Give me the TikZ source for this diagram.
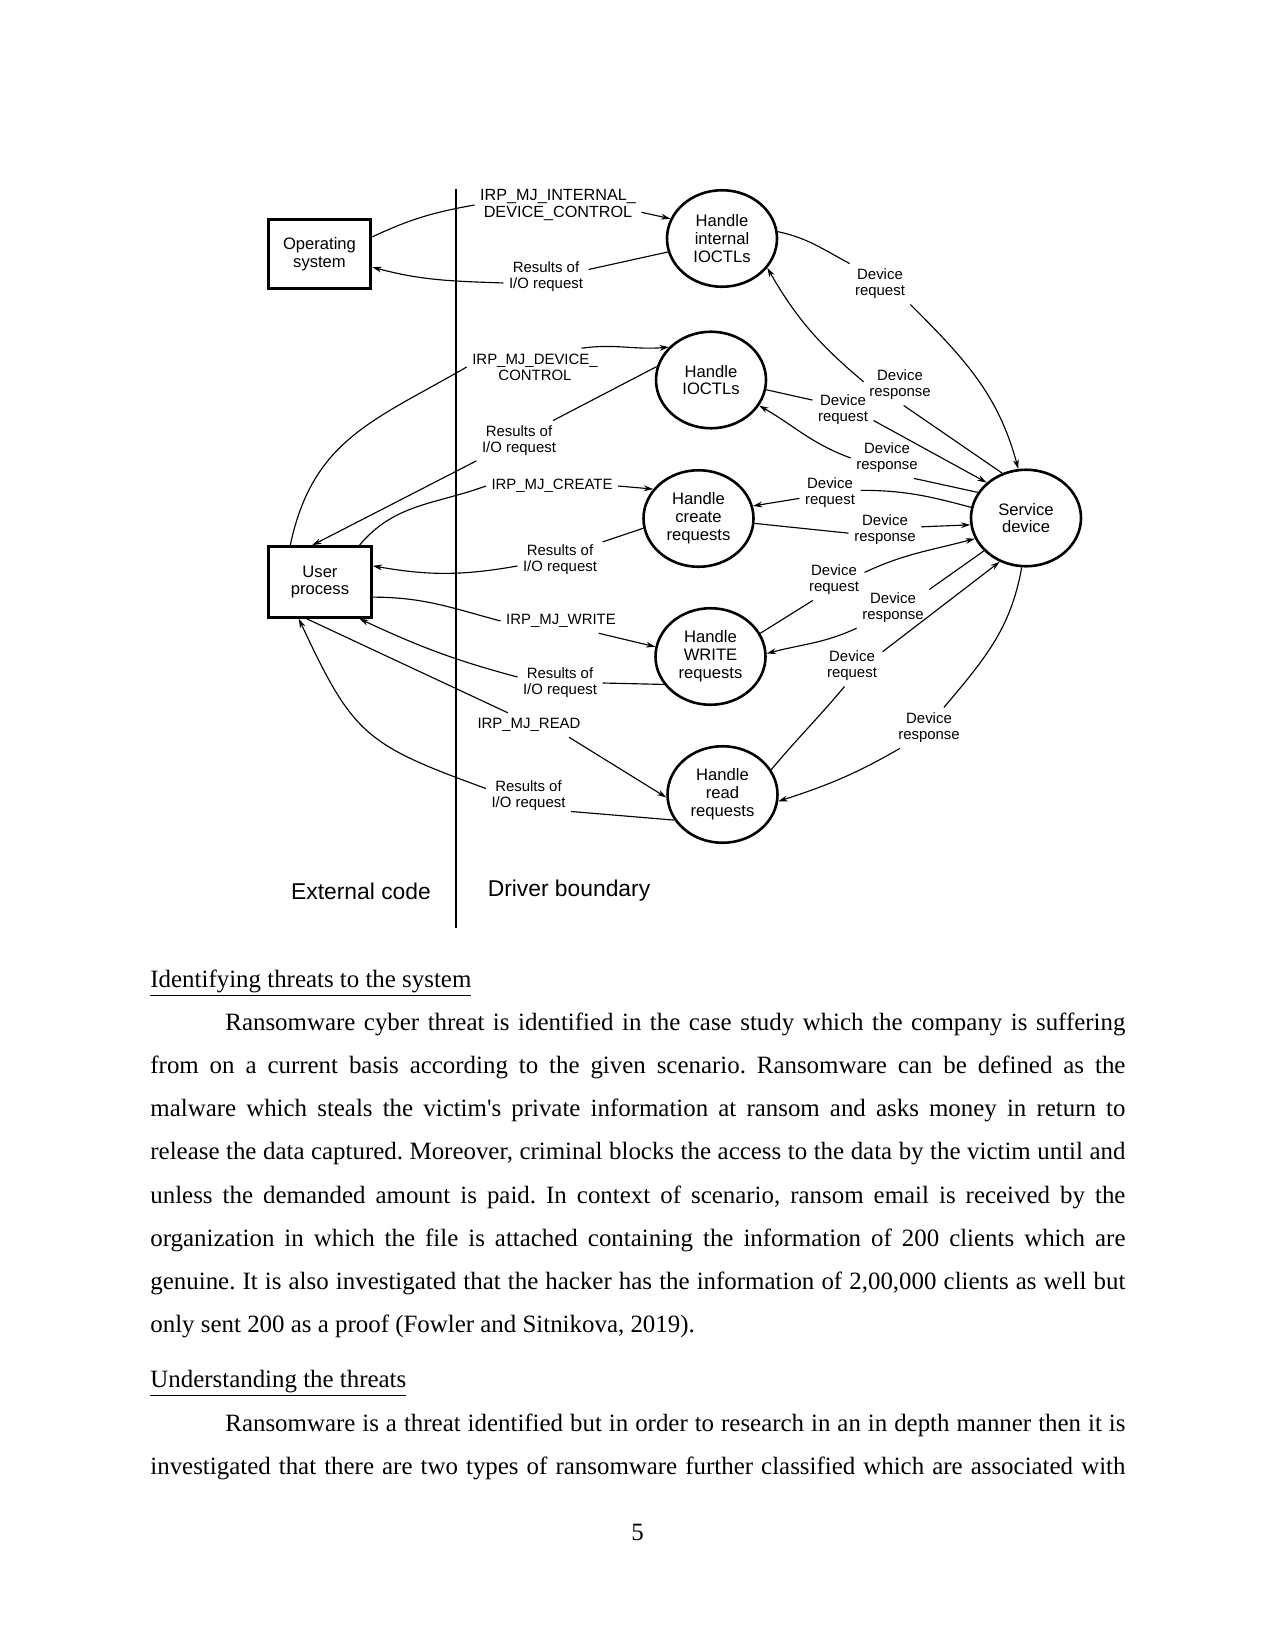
\documentclass[tikz,border=0pt]{standalone}
\usepackage{fontspec}
\setmainfont{Liberation Serif}
\newfontfamily\figfont{Liberation Sans}
\usetikzlibrary{shapes.geometric,arrows.meta}
\frenchspacing
\begin{document}
\begin{tikzpicture}[x=0.4818pt,y=-0.4818pt,
  proc/.style={ellipse,draw,line width=1.25pt,minimum width=53pt,minimum height=46.5pt,inner sep=0pt,align=center,font=\figfont\fontsize{8}{8.6}\selectfont},
  extbox/.style={rectangle,draw,line width=1.4pt,minimum width=49.5pt,minimum height=33pt,inner sep=0pt,align=center,font=\figfont\fontsize{8}{8.6}\selectfont},
  lab/.style={inner sep=2.5pt,align=center,font=\figfont\fontsize{7.2}{7.6}\selectfont},
  conn/.style={line width=0.55pt},
  arr/.style={conn,-{Stealth[length=4.5pt,width=2.8pt]}},
  body/.style={anchor=base west,inner sep=0pt,font=\fontsize{12}{14}\selectfont},
  bound/.style={font=\figfont\fontsize{11}{13}\selectfont},
]
\useasboundingbox (0,0) rectangle (1275,1650);

% boundary line
\coordinate (btop) at (456,189);
\coordinate (bbot) at (456,928);
\draw[line width=1.3pt] (btop) -- (bbot);

% main nodes
\node[extbox] (os) at (319.5,254) {Operating\\system};
\node[extbox,minimum height=34pt] (up) at (320,582) {User\\process};
\node[proc] (hi) at (722,238.5) {Handle\\internal\\IOCTLs};
\node[proc] (hc) at (711,380) {Handle\\IOCTLs};
\node[proc] (hr) at (698.5,518.5) {Handle\\create\\requests};
\node[proc] (hw) at (710.5,656.5) {Handle\\WRITE\\requests};
\node[proc] (hd) at (722.5,794.5) {Handle\\read\\requests};
\node[proc] (sd) at (1026,518) {Service\\device};

% labels
\node[lab,font=\figfont\fontsize{7.8}{8.4}\selectfont] (l1) at (558,205) {IRP\_MJ\_INTERNAL\_\\DEVICE\_CONTROL};
\node[lab] (l2) at (546,277) {Results of\\I/O request};
\node[lab] (l3) at (535,367) {IRP\_MJ\_DEVICE\_\\CONTROL};
\node[lab] (l4) at (519,441) {Results of\\I/O request};
\node[lab] (l5) at (552,486) {IRP\_MJ\_CREATE};
\node[lab] (l6) at (560,560) {Results of\\I/O request};
\node[lab] (l7) at (561,621) {IRP\_MJ\_WRITE};
\node[lab] (l8) at (560,683) {Results of\\I/O request};
\node[lab] (l9) at (529,725) {IRP\_MJ\_READ};
\node[lab] (l10) at (528.5,796) {Results of\\I/O request};
\node[lab] (r11) at (880,284) {Device\\request};
\node[lab] (r12) at (900,385) {Device\\response};
\node[lab] (r13) at (843,410) {Device\\request};
\node[lab] (r14) at (887,458) {Device\\response};
\node[lab] (r15) at (830,493) {Device\\request};
\node[lab] (r16) at (885,530) {Device\\response};
\node[lab] (r17) at (834,580) {Device\\request};
\node[lab] (r18) at (893,608) {Device\\response};
\node[lab] (r19) at (852,666) {Device\\request};
\node[lab] (r20) at (929,728) {Device\\response};

\node[bound] (ext) at (361,891) {External code};
\node[bound] (drv) at (569,891) {Driver boundary};

% left connectors
\draw[conn] (os.18) to[out=25,in=190] (l1.west);
\draw[arr] (l1.-5) -- (hi.159);
\draw[conn] (hi.194) -- (l2.10);
\draw[arr] (l2.188) to[out=178,in=-15] (os.-14);
\draw[conn] (up.129) to[out=78,in=210,looseness=1.1] (l3.west);
\draw[arr] (l3.22) to[out=8,in=185] (hc.142);
\draw[conn] (hc.166) -- (l4.31);
\draw[arr] (l4.205) -- (up.102);
\draw[conn] (up.43) to[out=50,in=200] (l5.west);
\draw[arr] (l5.east) -- (hr.147);
\draw[conn] (hr.190) -- (l6.23);
\draw[arr] (l6.188) to[out=190,in=-10] (up.17);
\draw[conn] (up.-16) to[out=0,in=165] (l7.west);
\draw[arr] (l7.-18) -- (hw.170);
\draw[conn] (hw.211) -- (l8.east);
\draw[arr] (l8.172) to[out=165,in=-25] (up.-43);
\draw[conn] (up.250) -- (l9.150);
\draw[arr] (l9.-17) -- (hd.183);
\draw[conn] (hd.208) -- (l10.-20);
\draw[arr] (l10.170) to[out=160,in=-65,looseness=1.3] (up.240);

% right connectors
\draw[conn] (hi.7) to[out=-12,in=152] (r11.146);
\draw[arr] (r11.-34) to[out=-45,in=105] (sd.99);
\draw[conn] (sd.118) -- (r12.-80);
\draw[arr] (r12.175) to[out=140,in=-60] (hi.-33);
\draw[conn] (hc.-10) -- (r13.162);
\draw[arr] (r13.-19) -- (sd.138);
\draw[conn] (sd.152) -- (r14.-37);
\draw[arr] (r14.west) to[out=160,in=-30] (hc.-28);
\draw[conn] (sd.169) to[out=165,in=0] (r15.5);
\draw[arr] (r15.190) -- (hr.13);
\draw[conn] (hr.-5) -- (r16.185);
\draw[arr] (r16.5) -- (sd.187);
\draw[conn] (hw.25) -- (r17.224);
\draw[arr] (r17.14) to[out=25,in=195] (sd.202);
\draw[conn] (sd.218) -- (r18.27);
\draw[arr] (r18.209) to[out=205,in=15] (hw.3);
\draw[conn] (hd.27) to[out=50,in=230] (r19.250);
\draw[arr] (r19.25) -- (sd.239);
\draw[conn] (sd.265) to[out=260,in=50] (r20.54);
\draw[arr] (r20.215) to[out=210,in=18] (hd.-7);

% body text
\node[body] (h1) at (150,987) {\underline{Identifying threats to the system}};
\node[body] (p1a) at (225,1030.5) {\makebox[6in][s]{Ransomware cyber threat is identified in the case study which the company is suffering}};
\node[body] (p1b) at (150,1073.6) {\makebox[6.5in][s]{from on a current basis according to the given scenario. Ransomware can be defined as the}};
\node[body] (p1c) at (150,1116.8) {\makebox[6.5in][s]{malware which steals the victim\textquotesingle s private information at ransom and asks money in return to}};
\node[body] (p1d) at (150,1159.9) {\makebox[6.5in][s]{release the data captured. Moreover, criminal blocks the access to the data by the victim until and}};
\node[body] (p1e) at (150,1203) {\makebox[6.5in][s]{unless the demanded amount is paid. In context of scenario, ransom email is received by the}};
\node[body] (p1f) at (150,1246.2) {\makebox[6.5in][s]{organization in which the file is attached containing the information of 200 clients which are}};
\node[body] (p1g) at (150,1289.3) {\makebox[6.5in][s]{genuine. It is also investigated that the hacker has the information of 2,00,000 clients as well but}};
\node[body] (p1h) at (150,1332.4) {only sent 200 as a proof (Fowler and Sitnikova, 2019).};
\node[body] (h2) at (150,1387) {\underline{Understanding the threats}};
\node[body] (p2a) at (225,1431) {\makebox[6in][s]{Ransomware is a threat identified but in order to research in an in depth manner then it is}};
\node[body] (p2b) at (150,1474.5) {\makebox[6.5in][s]{investigated that there are two types of ransomware further classified which are associated with}};
\node[body,anchor=base] (pg) at (637.5,1540) {5};
\end{tikzpicture}
\end{document}
